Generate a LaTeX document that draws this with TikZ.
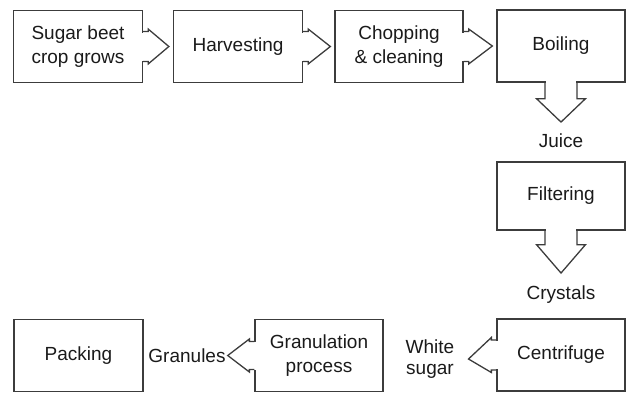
\documentclass[tikz,border=0pt]{standalone}
\usepackage{fontspec}
\setmainfont{Liberation Sans}
\usetikzlibrary{calc}
\definecolor{linegray}{HTML}{3C3C3C}
\definecolor{textgray}{HTML}{1A1A1A}
\tikzset{
  box/.style={draw=linegray, line width=1.3pt, minimum width=129pt, minimum height=72pt,
    align=center, inner sep=2pt, text=textgray, font=\fontsize{19}{24}\selectfont},
  lbl/.style={align=center, inner sep=1pt, text=textgray, font=\fontsize{19}{21}\selectfont},
  flow/.style={draw=linegray, line width=1.3pt, line join=miter},
  gap/.style={draw=white, line width=2.6pt}
}
\begin{document}
\begin{tikzpicture}[x=1pt, y=1pt]
  \useasboundingbox (0,0) rectangle (628,-405);
  \node[box] (b1) at (78, -46.5) {Sugar beet\\crop grows};
  \node[box] (b2) at (238, -46.5) {Harvesting};
  \node[box, minimum width=128pt] (b3) at (399, -46.5) {Chopping\\\& cleaning};
  \node[box, minimum width=128pt] (b4) at (561, -46) {Boiling};
  \node[lbl, anchor=base] (juice) at (561, -147) {Juice};
  \node[box, minimum width=128pt, minimum height=68pt] (b5) at (561, -196) {Filtering};
  \node[lbl, anchor=base] (crystals) at (561, -299) {Crystals};
  \node[box, minimum width=128pt] (b6) at (561, -355) {Centrifuge};
  \node[lbl] (white) at (430, -359) {White\\sugar};
  \node[box, minimum width=128pt] (b7) at (319, -355.5) {Granulation\\process};
  \node[lbl] (granules) at (187, -355.5) {Granules};
  \node[box] (b8) at (78.5, -355.5) {Packing};
  \draw[gap] ([yshift=14pt]b1.east) -- ([yshift=-14pt]b1.east);
  \draw[flow] ([yshift=15pt]b1.east) -- ++(5pt,0) -- ++(0,2.5pt) -- ([xshift=-4pt]b2.west)
    -- ($(b1.east)+(5pt,-17.5pt)$) -- ++(0,2.5pt) -- ++(-5pt,0);
  \draw[gap] ([yshift=14pt]b2.east) -- ([yshift=-14pt]b2.east);
  \draw[flow] ([yshift=15pt]b2.east) -- ++(5pt,0) -- ++(0,2.5pt) -- ([xshift=-4pt]b3.west)
    -- ($(b2.east)+(5pt,-17.5pt)$) -- ++(0,2.5pt) -- ++(-5pt,0);
  \draw[gap] ([yshift=14pt]b3.east) -- ([yshift=-14pt]b3.east);
  \draw[flow] ([yshift=15pt]b3.east) -- ++(5pt,0) -- ++(0,2.5pt) -- ([xshift=-4pt]b4.west)
    -- ($(b3.east)+(5pt,-17.5pt)$) -- ++(0,2.5pt) -- ++(-5pt,0);
  \draw[gap] ([xshift=-15pt]b4.south) -- ([xshift=15pt]b4.south);
  \draw[flow] ([xshift=-16pt]b4.south) -- ++(0,-16pt) -- ++(-8.5pt,0) -- ([yshift=10pt]juice.north)
    -- ($(b4.south)+(24.5pt,-16pt)$) -- ++(-8.5pt,0) -- ++(0,16pt);
  \draw[gap] ([xshift=-15pt]b5.south) -- ([xshift=15pt]b5.south);
  \draw[flow] ([xshift=-16pt]b5.south) -- ++(0,-14pt) -- ++(-8.5pt,0) -- ([yshift=11pt]crystals.north)
    -- ($(b5.south)+(24.5pt,-14pt)$) -- ++(-8.5pt,0) -- ++(0,14pt);
  \draw[gap] ([yshift=14pt]b6.west) -- ([yshift=-14pt]b6.west);
  \draw[flow] ([yshift=15pt]b6.west) -- ++(-5pt,0) -- ++(0,2.5pt) -- ([xshift=13pt]white.east)
    -- ($(b6.west)+(-5pt,-17.5pt)$) -- ++(0,2.5pt) -- ++(5pt,0);
  \draw[gap] ([yshift=14pt]b7.west) -- ([yshift=-14pt]b7.west);
  \draw[flow] ([yshift=14pt]b7.west) -- ++(-5pt,0) -- ++(0,2.5pt) -- ([xshift=1pt]granules.east)
    -- ($(b7.west)+(-5pt,-16.5pt)$) -- ++(0,2.5pt) -- ++(5pt,0);
\end{tikzpicture}
\end{document}
